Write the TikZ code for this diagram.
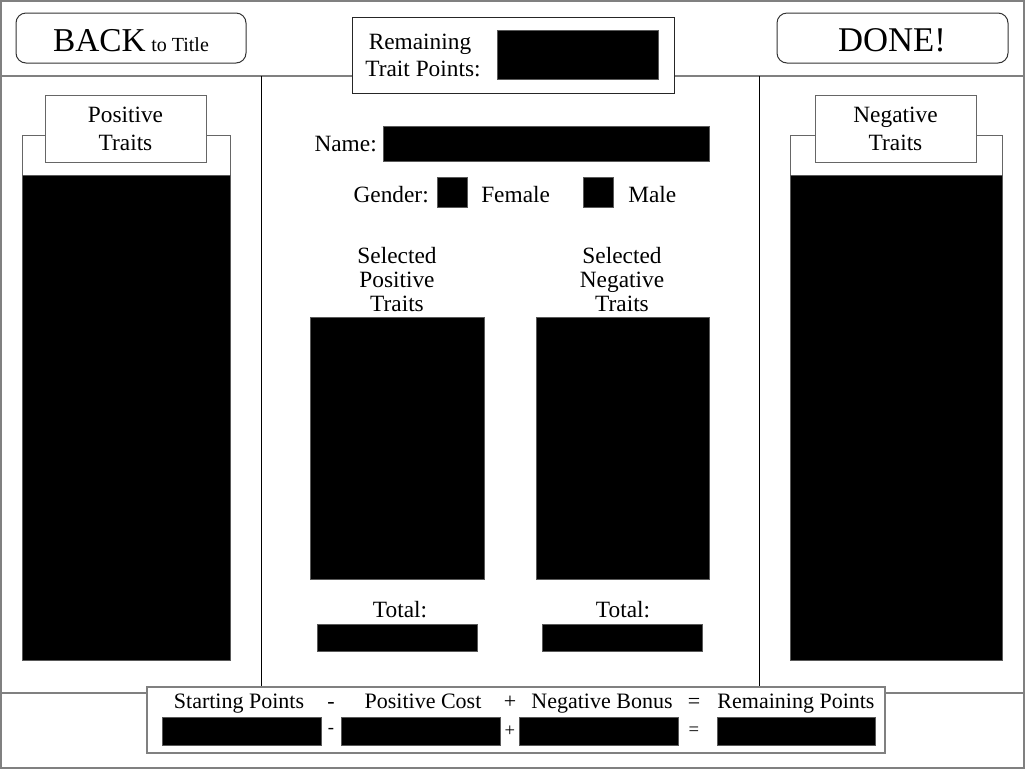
\documentclass[tikz,border=0pt]{standalone}
\usepackage{fontspec}
\setmainfont{Liberation Serif}
\begin{document}
\begin{tikzpicture}[x=0.75pt,y=-0.75pt,
  frame/.style={draw=black!50, line width=1.5pt},
  divider/.style={draw=black, line width=0.75pt},
  blk/.style={fill=black, draw=black!65, line width=0.75pt},
  btn/.style={draw=black!80, line width=0.75pt, rounded corners=7.5pt, fill=white},
  panel/.style={draw=black!60, line width=0.75pt, fill=white},
  txt/.style={font=\fontsize{17.5}{20}\selectfont, inner sep=0pt, align=center},
  optxt/.style={font=\fontsize{14}{16}\selectfont, inner sep=0pt},
]
\useasboundingbox (0,0) rectangle (1025,769);
\fill[white] (0,0) rectangle (1025,769);

% frame lines
\draw[frame] (0,76) -- (1025,76);
\draw[frame] (0,693) -- (1025,693);
\draw[divider] (261,76) -- (261,693);
\draw[divider] (759,76) -- (759,693);
\draw[frame] (1,1) rectangle (1024,768);

% buttons
\draw[btn] (16,13) rectangle (246,63);
\node[inner sep=0pt, anchor=base] (back) at (131,51) {\fontsize{25}{25}\selectfont BACK\,\fontsize{15}{15}\selectfont to Title};
\draw[btn] (777,13) rectangle (1008,63);
\node[inner sep=0pt, anchor=base] (done) at (892,51) {\fontsize{26}{26}\selectfont DONE!};

% remaining trait points
\draw[fill=white, draw=black!85, line width=0.75pt] (352,17) rectangle (674,93);
\draw[blk] (497,30) rectangle (658,79);
\node[txt, anchor=base] (rem1) at (420,49) {Remaining};
\node[txt, anchor=base] (rem2) at (423,76) {Trait Points:};

% positive traits panel
\draw[panel] (22,135) rectangle (230,660);
\draw[blk] (22,175) rectangle (230,660);
\draw[panel] (45,95) rectangle (206,162);
\node[txt, anchor=base] (pos1) at (125.5,122) {Positive};
\node[txt, anchor=base] (pos2) at (125.5,150) {Traits};

% negative traits panel
\draw[panel] (790,135) rectangle (1002,660);
\draw[blk] (790,175) rectangle (1002,660);
\draw[panel] (815,95) rectangle (976,162);
\node[txt, anchor=base] (neg1) at (895.5,122) {Negative};
\node[txt, anchor=base] (neg2) at (895.5,150) {Traits};

% name
\node[txt, anchor=base east] (namel) at (377,151) {Name:};
\draw[blk] (383,126) rectangle (709,161);

% gender
\node[txt, anchor=base east] (genl) at (429,202) {Gender:};
\draw[blk] (437,177) rectangle (467,207);
\node[txt, anchor=base west] (fem) at (481,202) {Female};
\draw[blk] (583,177) rectangle (613,207);
\node[txt, anchor=base west] (male) at (628,202) {Male};

% selected lists
\node[txt, anchor=base] (sp1) at (397,263) {Selected};
\node[txt, anchor=base] (sp2) at (397,287) {Positive};
\node[txt, anchor=base] (sp3) at (397,311) {Traits};
\draw[blk] (310,317) rectangle (484,579);
\node[txt, anchor=base] (sn1) at (622,263) {Selected};
\node[txt, anchor=base] (sn2) at (622,287) {Negative};
\node[txt, anchor=base] (sn3) at (622,311) {Traits};
\draw[blk] (536,317) rectangle (709,579);

% totals
\node[txt, anchor=base] (tot1) at (400,617) {Total:};
\draw[blk] (317,624) rectangle (477,651);
\node[txt, anchor=base] (tot2) at (623,617) {Total:};
\draw[blk] (542,624) rectangle (702,651);

% bottom formula
\draw[fill=white, draw=black!50, line width=1.5pt] (147,687) rectangle (885,753);
\node[txt, anchor=base, font=\fontsize{16.5}{20}\selectfont] (h1) at (239,708) {Starting Points};
\node[txt, anchor=base, font=\fontsize{16.5}{20}\selectfont] (o1) at (331,708) {-};
\node[txt, anchor=base, font=\fontsize{16.5}{20}\selectfont] (h2) at (423,708) {Positive Cost};
\node[txt, anchor=base, font=\fontsize{16.5}{20}\selectfont] (o2) at (510,708) {+};
\node[txt, anchor=base, font=\fontsize{16.5}{20}\selectfont] (h3) at (602,708) {Negative Bonus};
\node[txt, anchor=base, font=\fontsize{16.5}{20}\selectfont] (o3) at (694,708) {=};
\node[txt, anchor=base, font=\fontsize{16.5}{20}\selectfont] (h4) at (796,708) {Remaining Points};
\draw[blk] (162,717) rectangle (321,745);
\node[optxt] (p1) at (331,731) {-};
\draw[blk] (341,717) rectangle (500,745);
\node[optxt] (p2) at (510,731) {+};
\draw[blk] (519,717) rectangle (678,745);
\node[optxt] (p3) at (694,731) {=};
\draw[blk] (717,717) rectangle (875,745);
\end{tikzpicture}
\end{document}
